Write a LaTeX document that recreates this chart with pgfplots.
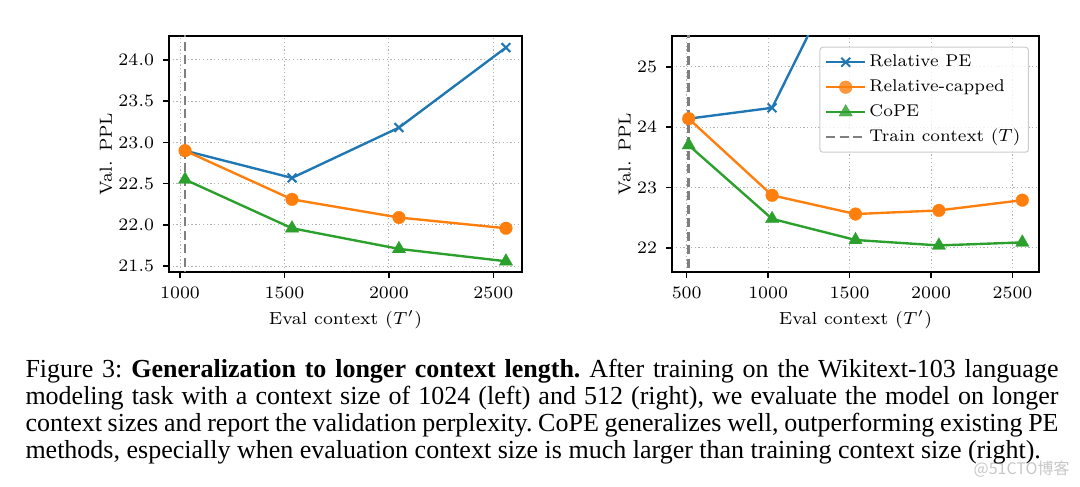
\documentclass[border=0pt]{standalone}
\usepackage{fontspec}
\usepackage{pgfplots}
\pgfplotsset{compat=1.18}
\newfontfamily\capfont{Liberation Serif}
\newfontfamily\cjk{Noto Sans CJK SC}
\definecolor{tabblue}{HTML}{1F77B4}
\definecolor{taborange}{HTML}{FF7F0E}
\definecolor{tabgreen}{HTML}{2CA02C}
\definecolor{dashgray}{HTML}{7F7F7F}
\begin{document}
\begin{tikzpicture}
\useasboundingbox (0,0) rectangle (432pt,194.8pt);
\pgfplotsset{
  cope/.style={
    scale only axis, height=94.4pt, anchor=south west,
    font=\fontsize{7}{8.4}\selectfont,
    tick align=outside, tick pos=left,
    major tick length=2.4pt,
    grid=major,
    grid style={dash pattern=on 0.5pt off 1pt, color=black!30, line width=0.4pt},
    axis line style={line width=0.6pt},
    every tick/.style={black, line width=0.6pt},
    xlabel={Eval context ($T'$)}, ylabel={Val. PPL},
    xlabel style={yshift=2pt},
    ylabel style={yshift=-4.4pt},
    /pgf/number format/1000 sep={},
    legend image code/.code={\draw[mark repeat=2,mark phase=2] plot coordinates {(0pt,0pt) (7.8pt,0pt) (15.6pt,0pt)};},
  },
  rpe/.style={tabblue, line width=0.95pt, mark=x, mark size=2.5pt, mark options={solid, line width=0.8pt}},
  cap/.style={taborange, line width=0.95pt, mark=*, mark size=2.55pt, mark options={solid, line width=0.1pt}},
  cpe/.style={tabgreen, line width=0.95pt, mark=triangle*, mark size=3.1pt, mark options={solid, line width=0.1pt}},
  trn/.style={dashgray, line width=1pt, dash pattern=on 3.6pt off 1.8pt},
}
% Left panel
\begin{axis}[cope, at={(67.6pt,86pt)}, width=141.2pt,
  xmin=947.2, xmax=2636.8, ymin=21.43, ymax=24.29,
  xtick={1000,1500,2000,2500}, ytick={21.5,22.0,22.5,23.0,23.5,24.0},
  yticklabel style={/pgf/number format/.cd, fixed, fixed zerofill, precision=1}]
\addplot[rpe] coordinates {(1024,22.90) (1536,22.57) (2048,23.18) (2560,24.15)};
\addplot[cap] coordinates {(1024,22.90) (1536,22.31) (2048,22.09) (2560,21.96)};
\addplot[cpe] coordinates {(1024,22.55) (1536,21.96) (2048,21.71) (2560,21.56)};
\addplot[trn] coordinates {(1024,21.0) (1024,24.6)};
\end{axis}
% Right panel
\begin{axis}[cope, at={(268.8pt,86pt)}, width=146.8pt,
  xmin=409.6, xmax=2662.4, ymin=21.6, ymax=25.51,
  xtick={500,1000,1500,2000,2500}, ytick={22,23,24,25},
  legend cell align=left,
  legend style={at={(1,1)}, anchor=north east, xshift=-4pt, yshift=-4.3pt,
    draw=black!20, rounded corners=1.2pt, fill=white, fill opacity=0.8, text opacity=1,
    font=\fontsize{6.8}{8.2}\selectfont, inner xsep=2pt, inner ysep=1pt, row sep=0pt,
    nodes={inner xsep=1.2pt, inner ysep=1.5pt, text height=5.2pt, text depth=1.8pt},
    /tikz/every even column/.append style={column sep=5pt}}]
\addplot[rpe] coordinates {(512,24.14) (1024,24.32) (1536,27.1) (2048,29.5) (2560,32.0)};
\addlegendentry{Relative PE}
\addplot[cap] coordinates {(512,24.14) (1024,22.87) (1536,22.56) (2048,22.62) (2560,22.79)};
\addlegendentry{Relative-capped}
\addplot[cpe] coordinates {(512,23.70) (1024,22.48) (1536,22.13) (2048,22.04) (2560,22.09)};
\addlegendentry{CoPE}
\addplot[trn] coordinates {(512,21.0) (512,26.0)};
\addlegendentry{Train context ($T$)}
\end{axis}
% Watermark
\node[anchor=base east, inner sep=0pt, font=\cjk\fontsize{6.4}{7}\selectfont, text=black!22] at (428pt,4.8pt) {@51CTO博客};
% Caption
\begin{scope}[every node/.style={anchor=base west, inner sep=0pt, font=\capfont\fontsize{10.4}{10.9}\selectfont\frenchspacing}]
\node at (10pt,43.7pt) {\makebox[413.2pt][s]{Figure 3: \textbf{Generalization to longer context length.} After training on the Wikitext-103 language}};
\node at (10pt,32.8pt) {\makebox[413.2pt][s]{modeling task with a context size of 1024 (left) and 512 (right), we evaluate the model on longer}};
\node at (10pt,22.0pt) {\makebox[413.2pt][s]{context sizes and report the validation perplexity. CoPE generalizes well, outperforming existing PE}};
\node at (10pt,11.2pt) {methods, especially when evaluation context size is much larger than training context size (right).};
\end{scope}
\end{tikzpicture}
\end{document}
